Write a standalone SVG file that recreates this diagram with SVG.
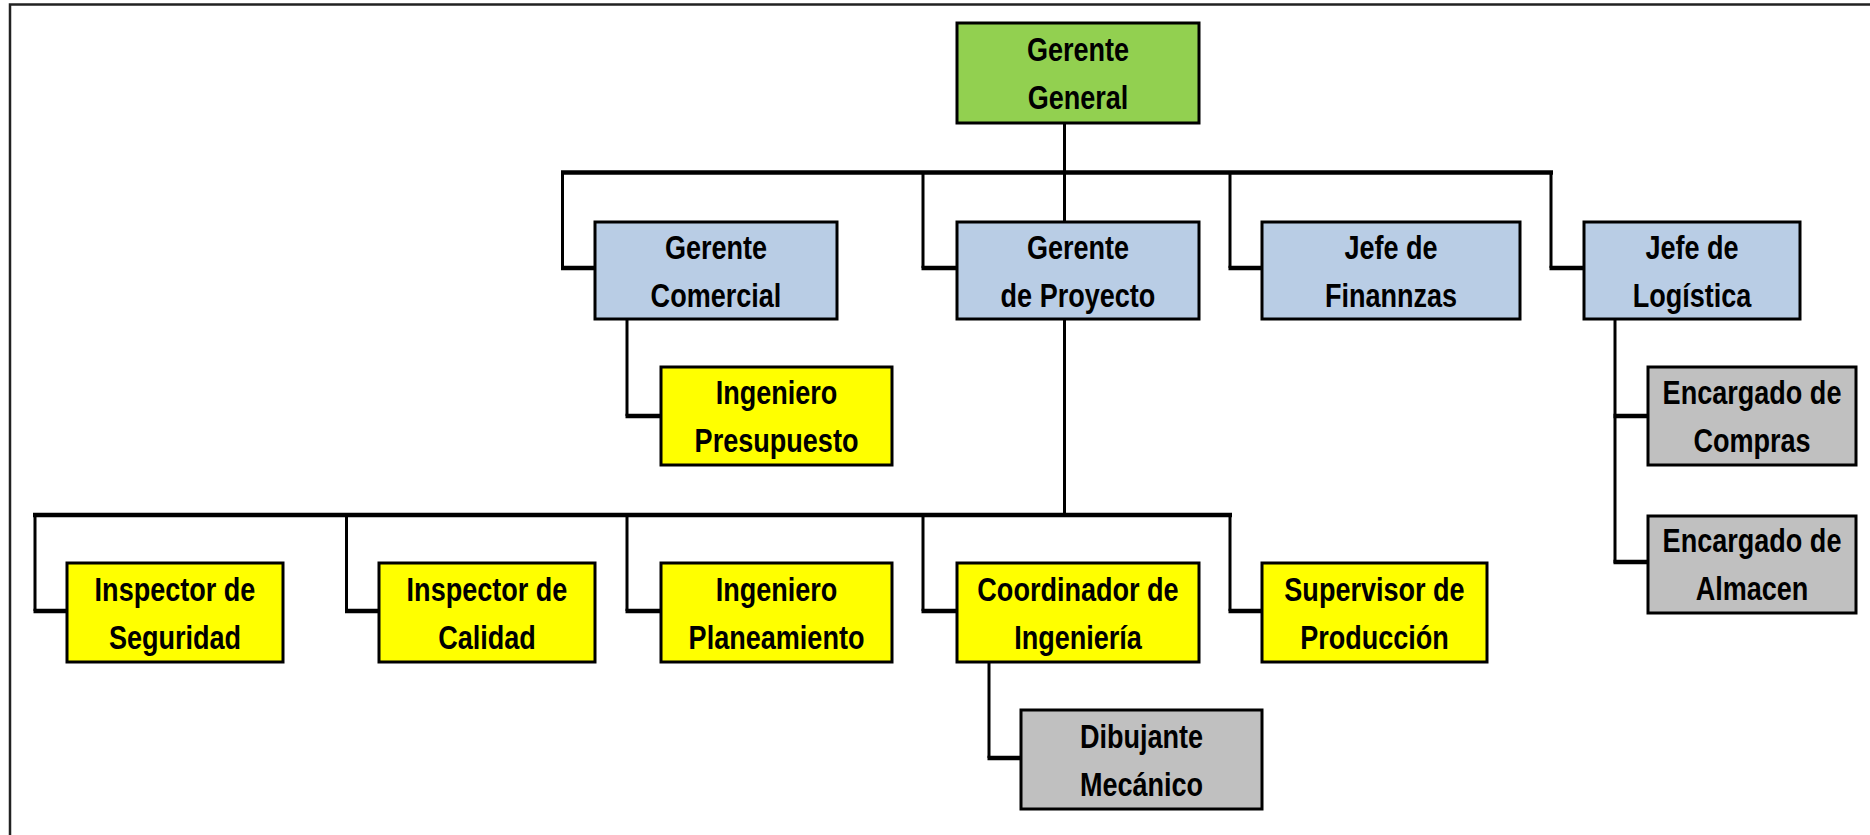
<svg xmlns="http://www.w3.org/2000/svg" width="1870" height="835" viewBox="0 0 1870 835">
<style>
.box{stroke:#000;stroke-width:3}
.g{fill:#92D050}
.b{fill:#B9CDE5}
.y{fill:#FFFF00}
.s{fill:#C0C0C0}
text{font-family:"Liberation Sans",Arial,sans-serif;font-weight:bold;font-size:33px;fill:#000;text-anchor:middle}
.v{stroke:#000;stroke-width:3;fill:none}
.h{stroke:#000;stroke-width:4.5;fill:none}
</style>
<rect width="1870" height="835" fill="#fff"/>
<path d="M10 835 V4.5 H1870" stroke="#222" stroke-width="2.5" fill="none"/>
<g id="connectors">
<path class="v" d="M1064.5 123 V222"/>
<path class="h" d="M561 172.5 H1553"/>
<path class="v" d="M562.5 172.5 V268 M923 172.5 V268 M1230 172.5 V268 M1551 172.5 V268"/>
<path class="h" d="M561 268 H595 M921.5 268 H957 M1228.5 268 H1262 M1549.5 268 H1584"/>
<path class="v" d="M627 319 V416"/>
<path class="h" d="M625.5 416 H661"/>
<path class="v" d="M1615 319 V563"/>
<path class="h" d="M1613.5 416 H1648 M1613.5 562 H1648"/>
<path class="v" d="M1064.5 319 V515"/>
<path class="h" d="M33 515 H1232"/>
<path class="v" d="M35 515 V611 M346.5 515 V611 M627 515 V611 M923 515 V611 M1230 515 V611"/>
<path class="h" d="M33.5 611 H67 M345 611 H379 M625.5 611 H661 M921.5 611 H957 M1228.5 611 H1262"/>
<path class="v" d="M989 662 V758"/>
<path class="h" d="M987.5 758 H1021"/>
</g>
<g id="gerente-general"><rect class="box g" x="957" y="23" width="242" height="100"/><g transform="translate(1078 0) scale(0.82 1)"><text x="0" y="61">Gerente</text><text x="0" y="109">General</text></g></g>
<g id="gerente-comercial"><rect class="box b" x="595" y="222" width="242" height="97"/><g transform="translate(716 0) scale(0.82 1)"><text x="0" y="259">Gerente</text><text x="0" y="307">Comercial</text></g></g>
<g id="gerente-proyecto"><rect class="box b" x="957" y="222" width="242" height="97"/><g transform="translate(1078 0) scale(0.82 1)"><text x="0" y="259">Gerente</text><text x="0" y="307">de Proyecto</text></g></g>
<g id="jefe-finanzas"><rect class="box b" x="1262" y="222" width="258" height="97"/><g transform="translate(1391 0) scale(0.82 1)"><text x="0" y="259">Jefe de</text><text x="0" y="307">Finannzas</text></g></g>
<g id="jefe-logistica"><rect class="box b" x="1584" y="222" width="216" height="97"/><g transform="translate(1692 0) scale(0.82 1)"><text x="0" y="259">Jefe de</text><text x="0" y="307">Logística</text></g></g>
<g id="ingeniero-presupuesto"><rect class="box y" x="661" y="367" width="231" height="98"/><g transform="translate(776.5 0) scale(0.82 1)"><text x="0" y="404">Ingeniero</text><text x="0" y="452">Presupuesto</text></g></g>
<g id="encargado-compras"><rect class="box s" x="1648" y="367" width="208" height="98"/><g transform="translate(1752 0) scale(0.82 1)"><text x="0" y="404">Encargado de</text><text x="0" y="452">Compras</text></g></g>
<g id="encargado-almacen"><rect class="box s" x="1648" y="516" width="208" height="97"/><g transform="translate(1752 0) scale(0.82 1)"><text x="0" y="552">Encargado de</text><text x="0" y="600">Almacen</text></g></g>
<g id="inspector-seguridad"><rect class="box y" x="67" y="563" width="216" height="99"/><g transform="translate(175 0) scale(0.82 1)"><text x="0" y="601">Inspector de</text><text x="0" y="649">Seguridad</text></g></g>
<g id="inspector-calidad"><rect class="box y" x="379" y="563" width="216" height="99"/><g transform="translate(487 0) scale(0.82 1)"><text x="0" y="601">Inspector de</text><text x="0" y="649">Calidad</text></g></g>
<g id="ingeniero-planeamiento"><rect class="box y" x="661" y="563" width="231" height="99"/><g transform="translate(776.5 0) scale(0.82 1)"><text x="0" y="601">Ingeniero</text><text x="0" y="649">Planeamiento</text></g></g>
<g id="coordinador-ingenieria"><rect class="box y" x="957" y="563" width="242" height="99"/><g transform="translate(1078 0) scale(0.82 1)"><text x="0" y="601">Coordinador de</text><text x="0" y="649">Ingeniería</text></g></g>
<g id="supervisor-produccion"><rect class="box y" x="1262" y="563" width="225" height="99"/><g transform="translate(1374.5 0) scale(0.82 1)"><text x="0" y="601">Supervisor de</text><text x="0" y="649">Producción</text></g></g>
<g id="dibujante-mecanico"><rect class="box s" x="1021" y="710" width="241" height="99"/><g transform="translate(1141.5 0) scale(0.82 1)"><text x="0" y="748">Dibujante</text><text x="0" y="796">Mecánico</text></g></g>
</svg>
